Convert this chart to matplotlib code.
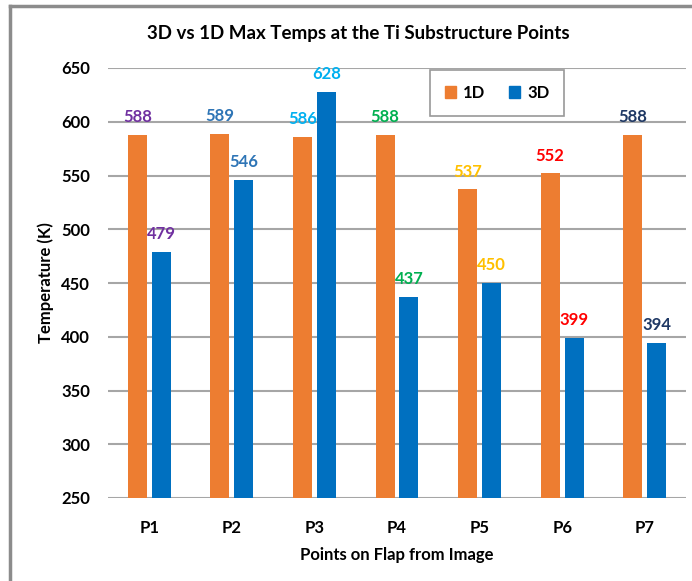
import matplotlib
matplotlib.use("Agg")
import matplotlib.pyplot as plt
from matplotlib.lines import Line2D
from matplotlib.patches import Patch
import numpy as np

categories = ["P1", "P2", "P3", "P4", "P5", "P6", "P7"]
temps_1d = [588, 589, 586, 588, 537, 552, 588]
temps_3d = [479, 546, 628, 437, 450, 399, 394]
label_colors = ["#7030A0", "#2E75B6", "#00B0F0", "#00B050", "#FFC000", "#FF0000", "#1F3864"]
yticks = [250, 300, 350, 400, 450, 500, 550, 600, 650]

plt.rcParams['font.family'] = ['Lato', 'DejaVu Sans']

W, H = 692, 581
fig = plt.figure(figsize=(W / 100, H / 100), dpi=100)
ax = fig.add_axes([108 / W, 1 - 498 / H, (686 - 108) / W, (498 - 68) / H])

x = np.arange(len(categories))
bw = 0.23
off = 0.145
c1 = "#ED7D31"
c3 = "#0070C0"
ax.bar(x - off, [v - 250 for v in temps_1d], bw, bottom=250, color=c1, zorder=3)
ax.bar(x + off, [v - 250 for v in temps_3d], bw, bottom=250, color=c3, zorder=3)

for i in range(len(categories)):
    ax.annotate(str(temps_1d[i]), (x[i] - off, temps_1d[i]), xytext=(0, 7),
                textcoords="offset points", ha="center", va="bottom",
                fontsize=12, fontweight="bold", color=label_colors[i], zorder=4)
    ax.annotate(str(temps_3d[i]), (x[i] + off, temps_3d[i]), xytext=(0, 7),
                textcoords="offset points", ha="center", va="bottom",
                fontsize=12, fontweight="bold", color=label_colors[i], zorder=4)

ax.set_ylim(250, 650)
ax.set_xlim(-0.5, 6.5)
ax.set_yticks(yticks)
ax.set_xticks(x)
ax.set_xticklabels(categories)
ax.tick_params(length=0, labelsize=12)
for lab in ax.get_xticklabels() + ax.get_yticklabels():
    lab.set_fontweight("bold")
ax.tick_params(axis="x", pad=16)
ax.tick_params(axis="y", pad=13)
ax.yaxis.grid(True, color="#A6A6A6", linewidth=1.5, zorder=0)
for s in ax.spines.values():
    s.set_visible(False)

ax.set_ylabel("Temperature (K)", fontsize=12, fontweight="bold", labelpad=5)
ax.set_xlabel("Points on Flap from Image", fontsize=12, fontweight="bold", labelpad=8)
fig.text(358 / W, 1 - 33 / H, "3D vs 1D Max Temps at the Ti Substructure Points",
         ha="center", va="center", fontsize=13.5, fontweight="bold")

handles = [Patch(color=c1, label="1D"), Patch(color=c3, label="3D")]
leg = fig.legend(handles=handles, loc="center", ncol=2,
                 bbox_to_anchor=(497 / W, 1 - 93 / H), frameon=True, fancybox=False,
                 handlelength=0.7, handleheight=0.7, handletextpad=0.4, columnspacing=1.4,
                 borderpad=0.9, prop={"weight": "bold", "size": 12})
leg.get_frame().set_edgecolor("#7F7F7F")
leg.get_frame().set_linewidth(1.2)

# outer frame lines
fig.add_artist(Line2D([10 / W, 10 / W], [0, 1 - 6 / H], transform=fig.transFigure, color="#8C8C8C", lw=2.5))
fig.add_artist(Line2D([10 / W, 1], [1 - 6 / H, 1 - 6 / H], transform=fig.transFigure, color="#8C8C8C", lw=2.5))

fig.savefig("out.png", dpi=100)
